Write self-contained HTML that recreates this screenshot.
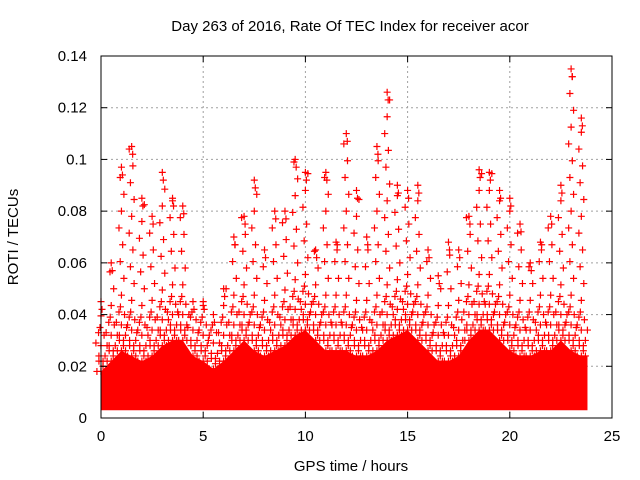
<!DOCTYPE html>
<html><head><meta charset="utf-8"><style>
body{margin:0;background:#fff}
svg{display:block;font-family:"Liberation Sans","DejaVu Sans",sans-serif}
</style></head><body>
<svg id="c" width="640" height="480" viewBox="0 0 640 480">
<text x="350" y="31" font-size="15" text-anchor="middle">Day 263 of 2016, Rate Of TEC Index for receiver acor</text>
<text x="351" y="471" font-size="15" text-anchor="middle">GPS time / hours</text>
<text transform="translate(18,237) rotate(-90)" font-size="15" text-anchor="middle">ROTI / TECUs</text>
<g id="grid"></g><g id="marks"></g><g id="axes"></g>
</svg>
<script>
const xTicks=[0,5,10,15,20,25];
const yTicks=[0,0.02,0.04,0.06,0.08,0.1,0.12,0.14];
const yTickLabels=["0","0.02","0.04","0.06","0.08","0.1","0.12","0.14"];
const hours=[0,0.5,1,1.5,2,2.5,3,3.5,4,4.5,5,5.5,6,6.5,7,7.5,8,8.5,9,9.5,10,10.5,11,11.5,12,12.5,13,13.5,14,14.5,15,15.5,16,16.5,17,17.5,18,18.5,19,19.5,20,20.5,21,21.5,22,22.5,23,23.5];
const bandTop=[0.02,0.024,0.028,0.026,0.024,0.026,0.03,0.032,0.032,0.026,0.024,0.021,0.024,0.028,0.032,0.028,0.026,0.028,0.03,0.034,0.036,0.032,0.028,0.028,0.028,0.026,0.026,0.028,0.032,0.034,0.036,0.032,0.028,0.024,0.024,0.026,0.032,0.036,0.036,0.032,0.028,0.026,0.026,0.028,0.028,0.032,0.028,0.026];
const peaks=[0.045,0.06,0.097,0.105,0.085,0.078,0.095,0.085,0.082,0.045,0.045,0.04,0.05,0.07,0.078,0.092,0.065,0.08,0.08,0.1,0.095,0.065,0.095,0.068,0.11,0.088,0.07,0.105,0.126,0.09,0.088,0.09,0.065,0.055,0.068,0.065,0.078,0.096,0.095,0.088,0.085,0.075,0.06,0.068,0.078,0.09,0.135,0.116];
const bandBottom=0.003;
const X0=101,X1=612,Y0=418,Y1=56;
const xs=v=>X0+(v/25)*(X1-X0);
const ys=v=>Y0-(v/0.14)*(Y0-Y1);
const NS="http://www.w3.org/2000/svg";
function mk(t,a,p){const e=document.createElementNS(NS,t);for(const k in a)e.setAttribute(k,a[k]);p.appendChild(e);return e;}
const grid=document.getElementById('grid'),marks=document.getElementById('marks'),axes=document.getElementById('axes');
xTicks.forEach(t=>{
 if(t>0&&t<25){const g=mk('line',{x1:xs(t),x2:xs(t),y1:Y1,y2:Y0,stroke:'#a0a0a0','stroke-dasharray':'2,3'},grid);
 
 }
 const tx=mk('text',{x:xs(t),y:441,'font-size':15,'text-anchor':'middle'},axes);tx.textContent=t;
 
 
 mk('line',{x1:xs(t),x2:xs(t),y1:Y0,y2:Y0-6,stroke:'#000'},axes);
 mk('line',{x1:xs(t),x2:xs(t),y1:Y1,y2:Y1+6,stroke:'#000'},axes);
});
yTicks.forEach((t,i)=>{
 if(t>0&&t<0.14){const g=mk('line',{x1:X0,x2:X1,y1:ys(t),y2:ys(t),stroke:'#a0a0a0','stroke-dasharray':'2,3'},grid);
 
 }
 const tx=mk('text',{x:87,y:ys(t)+5,'font-size':15,'text-anchor':'end'},axes);tx.textContent=yTickLabels[i];
 
 
 mk('line',{x1:X0,x2:X0+6,y1:ys(t),y2:ys(t),stroke:'#000'},axes);
 mk('line',{x1:X1,x2:X1-6,y1:ys(t),y2:ys(t),stroke:'#000'},axes);
});
const frame=mk('rect',{x:X0,y:Y1,width:X1-X0,height:Y0-Y1,fill:'none',stroke:'#000'},axes);


let d='M'+xs(hours[0])+','+ys(bandBottom);
hours.forEach((h,i)=>{d+=' L'+xs(h)+','+ys(bandTop[i]-0.002);});
d+=' L'+xs(23.8)+','+ys(bandTop[bandTop.length-1]-0.002)+' L'+xs(23.8)+','+ys(bandBottom)+' Z';
const band=mk('path',{d:d,fill:'#ff0000'},marks);


function cross(x,y){const p=mk('path',{d:`M${x-3.5},${y}h7M${x},${y-3.5}v7`,stroke:'#ff0000','stroke-width':1.2,fill:'none'},marks);
 
 }
const offs=[-0.2,-0.1,0,0.1,0.2];
hours.forEach((h,i)=>{
 offs.forEach((dx,j)=>{
  cross(xs(h+dx),ys(bandTop[i]-0.002+(j%2)*0.004));
  cross(xs(h+dx)+2,ys(bandTop[i]+0.004*((j+1)%3)));
  if(j%2===0) cross(xs(h+dx)-1,ys(bandTop[i]+0.009+0.003*(j%3)));
 });
 const top=peaks[i];
 let k=0;
 for(let v=bandTop[i]+0.013;v<top;v+=0.0065,k++){
  cross(xs(h+offs[(k*2)%5]*0.6),ys(v));
 }
 cross(xs(h),ys(top));
 cross(xs(h)+1,ys(top-0.003));
});
</script>
</body></html>
